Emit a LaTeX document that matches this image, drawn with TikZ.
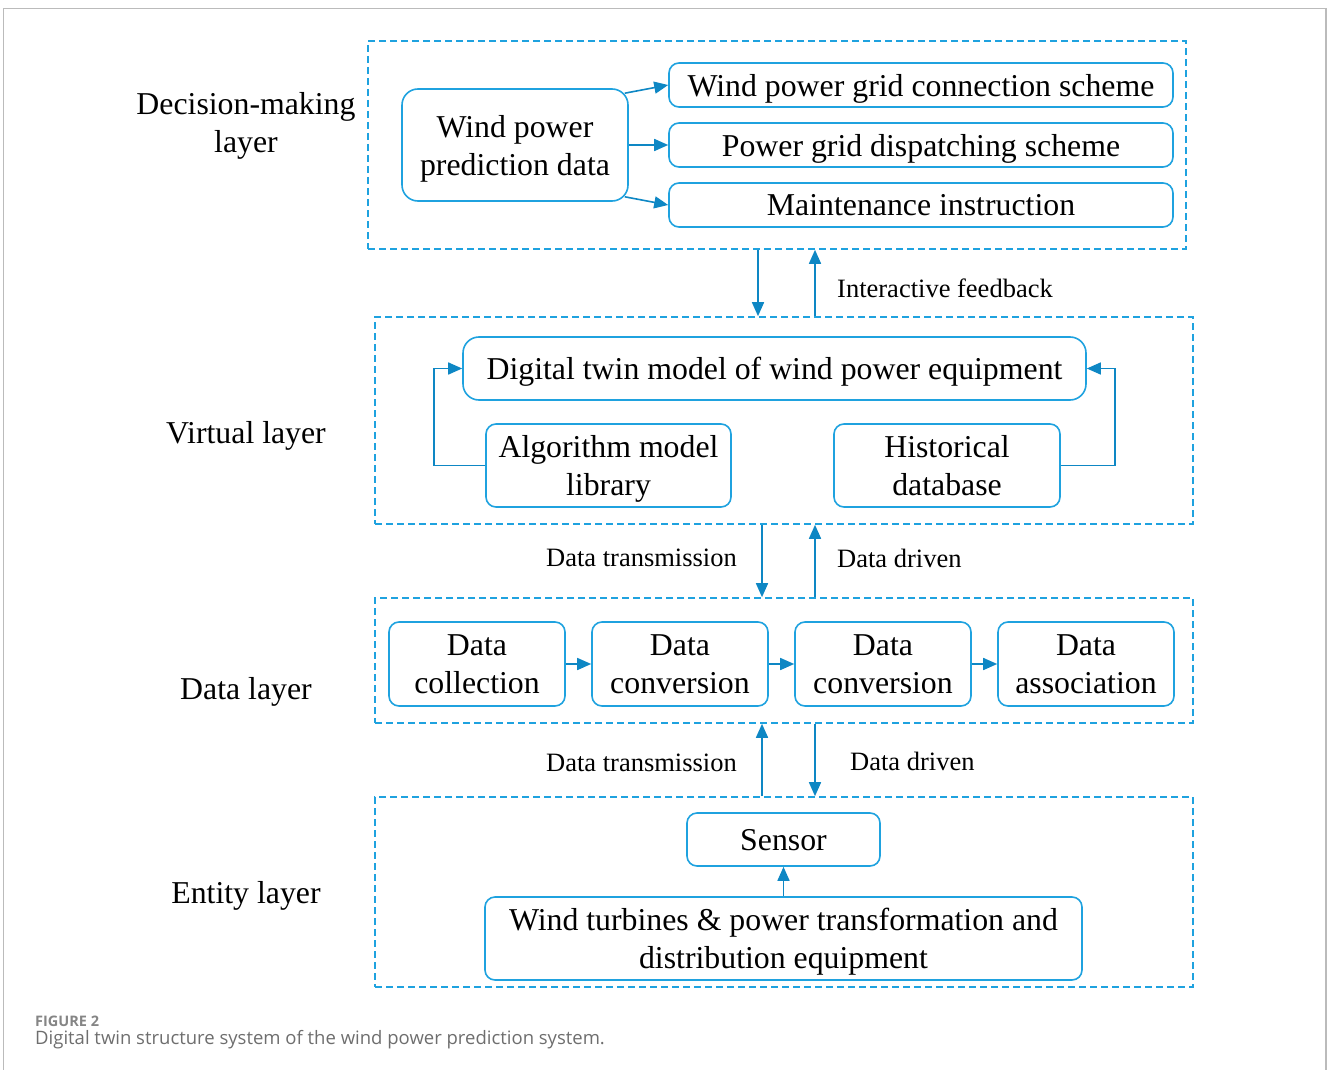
\documentclass[tikz,border=0pt]{standalone}
\usepackage{fontspec}
\setmainfont{Liberation Serif}
\newfontfamily\capfont{Open Sans}
\usetikzlibrary{arrows.meta,calc}

\definecolor{boxblue}{HTML}{1FA2DF}
\definecolor{arrowblue}{HTML}{0E87C4}
\definecolor{framegray}{HTML}{BBBBBB}
\definecolor{capgray}{HTML}{6E6E6E}
\definecolor{fignogray}{HTML}{858585}

\newcommand{\boxfont}{\fontsize{31.8pt}{38pt}\selectfont}
\newcommand{\lblfont}{\fontsize{26.5pt}{31pt}\selectfont}

\begin{document}
\begin{tikzpicture}[
  x=1pt, y=-1pt,
  layerbox/.style={draw=boxblue, line width=1.6pt, dash pattern=on 7pt off 4pt,
    rectangle, inner sep=0pt},
  item/.style={draw=boxblue, line width=1.6pt, rounded corners=10pt, rectangle,
    align=center, inner sep=0pt, text depth=0pt, font=\boxfont},
  bigitem/.style={item, rounded corners=16pt},
  layername/.style={align=center, inner sep=0pt, text depth=0pt, font=\boxfont},
  flowlabel/.style={inner sep=0pt, font=\lblfont},
  arr/.style={draw=arrowblue, line width=1.6pt,
    -{Triangle[length=14pt,width=12pt]}, fill=none}
]
\useasboundingbox (0,0) rectangle (1327,1070);

% page frame, open at the bottom
\draw[framegray, line width=1.2pt] (3.5,1070) -- (3.5,8.5) -- (1326,8.5) -- (1326,1070);

% ---- layer frames ----
\node[layerbox, minimum width=818, minimum height=208] (Ldec) at (777,145) {};
\node[layerbox, minimum width=818, minimum height=207] (Lvir) at (784,420.5) {};
\node[layerbox, minimum width=818, minimum height=125] (Ldat) at (784,660.5) {};
\node[layerbox, minimum width=818, minimum height=190] (Lent) at (784,892) {};

% ---- layer names ----
\node[layername] (nDec) at (246,122) {Decision-making\\layer};
\node[layername] (nVir) at (246,432) {Virtual layer};
\node[layername] (nDat) at (246,688) {Data layer};
\node[layername] (nEnt) at (246,892) {Entity layer};

% ---- decision-making layer ----
\node[bigitem, minimum width=226, minimum height=112] (pred) at (515,145)
  {Wind power\\prediction data};
\node[item, minimum width=504, minimum height=44] (conn) at (921,85)
  {Wind power grid connection scheme};
\node[item, minimum width=504, minimum height=44] (disp) at (921,145)
  {Power grid dispatching scheme};
\node[item, minimum width=504, minimum height=44] (maint) at (921,205)
  {Maintenance instruction};

\draw[arr] ([shift={(-4,5)}]pred.north east) -- (conn.west);
\draw[arr] (pred.east) -- (disp.west);
\draw[arr] ([shift={(-4,-5)}]pred.south east) -- (maint.west);

% ---- virtual layer ----
\node[bigitem, minimum width=623, minimum height=63] (twin) at (774.5,368.5)
  {Digital twin model of wind power equipment};
\node[item, minimum width=245, minimum height=83] (algo) at (608.5,465.5)
  {Algorithm model\\library};
\node[item, minimum width=226, minimum height=83] (hist) at (947,465.5)
  {Historical\\database};

\coordinate (loopL) at (434,0);
\coordinate (loopR) at (1115,0);
\draw[arr] (algo.west) -- (algo.west -| loopL) -- (twin.west -| loopL) -- (twin.west);
\draw[arr] (hist.east) -- (hist.east -| loopR) -- (twin.east -| loopR) -- (twin.east);

% ---- data layer ----
\node[item, minimum width=176, minimum height=84] (d1) at (477,664) {Data\\collection};
\node[item, minimum width=176, minimum height=84] (d2) at (680,664) {Data\\conversion};
\node[item, minimum width=176, minimum height=84] (d3) at (883,664) {Data\\conversion};
\node[item, minimum width=176, minimum height=84] (d4) at (1086,664) {Data\\association};
\draw[arr] (d1) -- (d2);
\draw[arr] (d2) -- (d3);
\draw[arr] (d3) -- (d4);

% ---- entity layer ----
\node[item, minimum width=193, minimum height=53] (sensor) at (783.5,839.5) {Sensor};
\node[item, minimum width=597, minimum height=83] (turb) at (783.5,938.5)
  {Wind turbines \& power transformation and\\distribution equipment};
\draw[arr] (turb.north) -- (sensor.south);

% ---- links between layers ----
\coordinate (xa) at (758,0);
\coordinate (xb) at (815,0);
\coordinate (xc) at (762,0);
\draw[arr] (Ldec.south -| xa) -- (Lvir.north -| xa);
\draw[arr] (Lvir.north -| xb) -- (Ldec.south -| xb);
\node[flowlabel, anchor=west] (fb) at (837,288) {Interactive feedback};

\draw[arr] (Lvir.south -| xc) -- (Ldat.north -| xc);
\draw[arr] (Ldat.north -| xb) -- (Lvir.south -| xb);
\node[flowlabel, anchor=east] (tx1) at (737,558) {Data transmission};
\node[flowlabel, anchor=west] (dr1) at (837,558) {Data driven};

\draw[arr] (Lent.north -| xc) -- (Ldat.south -| xc);
\draw[arr] (Ldat.south -| xb) -- (Lent.north -| xb);
\node[flowlabel, anchor=east] (tx2) at (737,763) {Data transmission};
\node[flowlabel, anchor=west] (dr2) at (850,761) {Data driven};

% ---- caption ----
\node[anchor=west, inner sep=0pt, text=fignogray, font={\capfont\bfseries\fontsize{14.5pt}{17pt}\selectfont}]
  (figno) at (35,1021) {FIGURE 2};
\node[anchor=west, inner sep=0pt, text=capgray, font={\capfont\fontsize{18.5pt}{22pt}\selectfont}]
  (cap) at (35,1040) {Digital twin structure system of the wind power prediction system.};
\end{tikzpicture}
\end{document}
